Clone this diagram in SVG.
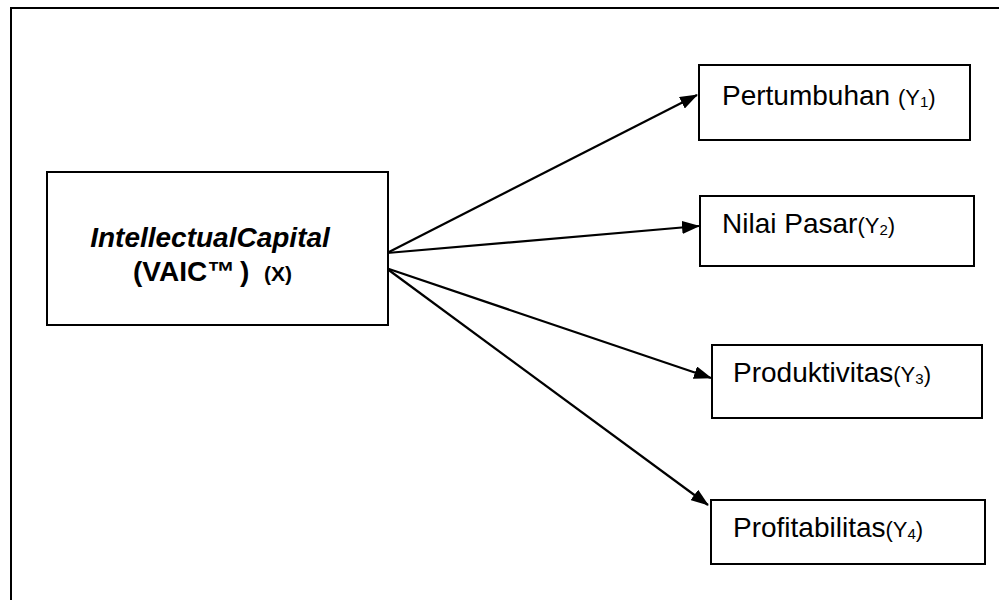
<svg xmlns="http://www.w3.org/2000/svg" width="999" height="600" viewBox="0 0 999 600">
<defs>
<marker id="ah" markerWidth="18" markerHeight="13" refX="17" refY="6.5" orient="auto" markerUnits="userSpaceOnUse">
<path d="M0,0 L18,6.5 L0,13 Z" fill="#000"/>
</marker>
<style>
.box{fill:#fff;stroke:#000;stroke-width:2}
.lbl{font-family:"Liberation Sans",Arial,sans-serif;font-size:28px;fill:#000}
.sm{font-size:22px}
.sub{font-size:15px}
.cn{stroke:#000;stroke-width:2.2;fill:none;marker-end:url(#ah)}
</style>
</defs>
<rect x="11" y="8" width="1000" height="600" fill="#fff" stroke="#000" stroke-width="2"/>
<g id="connectors">
<line class="cn" x1="387" y1="253" x2="697" y2="95"/>
<line class="cn" x1="387" y1="253" x2="699" y2="226"/>
<line class="cn" x1="386" y1="268" x2="711" y2="378"/>
<line class="cn" x1="386" y1="268" x2="708" y2="505"/>
</g>
<g id="ic">
<rect class="box" x="47" y="172" width="341" height="153"/>
<text class="lbl" x="210" y="247" text-anchor="middle" font-weight="bold" font-style="italic" font-size="31">IntellectualCapital</text>
<text class="lbl" y="281" font-weight="bold" font-size="29"><tspan x="133">(VAIC™</tspan><tspan x="240">)</tspan><tspan x="264" font-size="21">(X)</tspan></text>
</g>
<g id="y1">
<rect class="box" x="699" y="65" width="271" height="75"/>
<text class="lbl" x="722" y="105">Pertumbuhan <tspan class="sm">(Y<tspan class="sub" dy="2">1</tspan><tspan dy="-2">)</tspan></tspan></text>
</g>
<g id="y2">
<rect class="box" x="700" y="196" width="274" height="70"/>
<text class="lbl" x="722" y="233">Nilai Pasar<tspan class="sm">(Y<tspan class="sub" dy="2">2</tspan><tspan dy="-2">)</tspan></tspan></text>
</g>
<g id="y3">
<rect class="box" x="712" y="345" width="270" height="73"/>
<text class="lbl" x="733" y="382">Produktivitas<tspan class="sm">(Y<tspan class="sub" dy="2">3</tspan><tspan dy="-2">)</tspan></tspan></text>
</g>
<g id="y4">
<rect class="box" x="711" y="500" width="274" height="64"/>
<text class="lbl" x="733" y="537">Profitabilitas<tspan class="sm">(Y<tspan class="sub" dy="2">4</tspan><tspan dy="-2">)</tspan></tspan></text>
</g>
</svg>
